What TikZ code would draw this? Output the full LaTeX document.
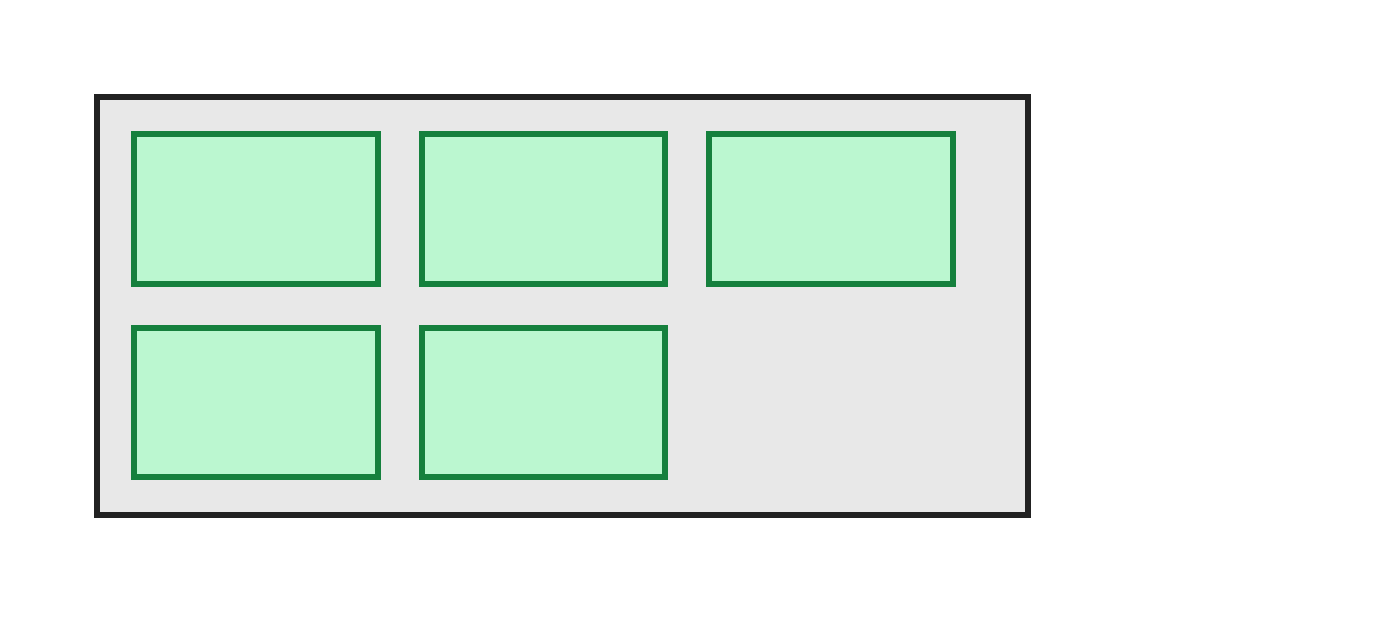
\documentclass[tikz,border=0pt]{standalone}
\usepackage{xcolor}
\definecolor{frameline}{HTML}{222222}
\definecolor{framefill}{HTML}{E8E8E8}
\definecolor{cellline}{HTML}{15803D}
\definecolor{cellfill}{HTML}{BBF7D0}
\begin{document}
\begin{tikzpicture}[x=0.02cm,y=-0.02cm,
  frame/.style={draw=frameline, fill=framefill, line width=0.12cm},
  cell/.style={draw=cellline, fill=cellfill, line width=0.12cm}]
\useasboundingbox (0,0) rectangle (1375,625);

\draw[frame] (97,97) rectangle (1028,515);

\draw[cell] (134,134) rectangle (378,284);
\draw[cell] (422,134) rectangle (665,284);
\draw[cell] (709,134) rectangle (953,284);

\draw[cell] (134,328) rectangle (378,477);
\draw[cell] (422,328) rectangle (665,477);

\end{tikzpicture}
\end{document}
